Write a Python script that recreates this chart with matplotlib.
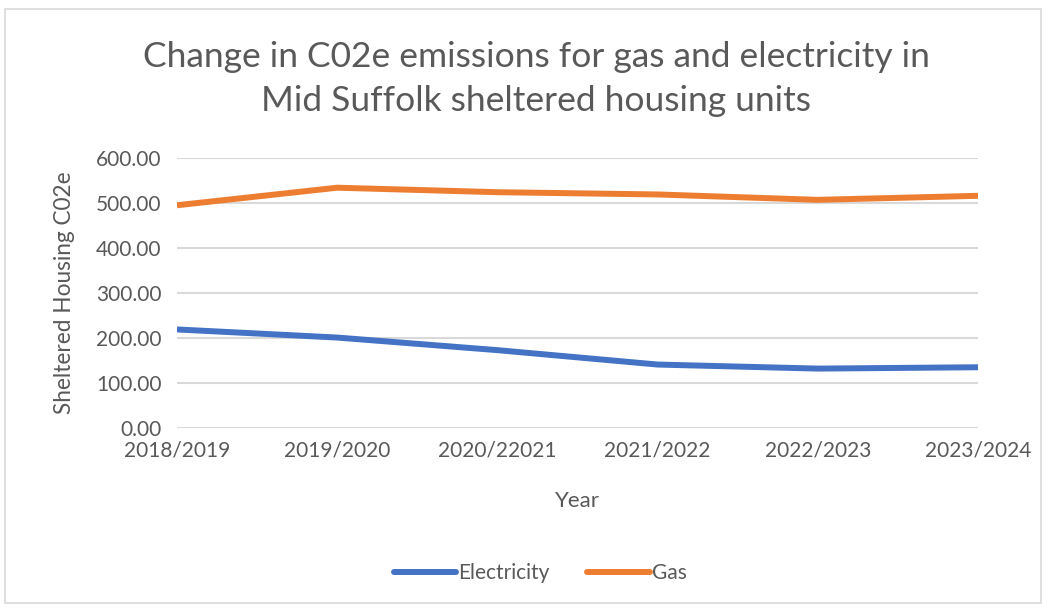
import matplotlib
matplotlib.use("Agg")
import matplotlib.pyplot as plt
from matplotlib.patches import Rectangle

years = ["2018/2019", "2019/2020", "2020/22021", "2021/2022", "2022/2023", "2023/2024"]
electricity = [219, 201, 173, 141, 132, 135]
gas = [495, 534, 524, 519, 507, 516]
yticks = [0, 100, 200, 300, 400, 500, 600]

plt.rcParams['font.family'] = ['Lato', 'DejaVu Sans']
gray = '#595959'

fig = plt.figure(figsize=(10.51, 6.07), dpi=100)
fig.patches.append(Rectangle((5/1051, 4/607), 1036/1051, 594/607, transform=fig.transFigure,
                             fill=False, edgecolor='#D9D9D9', linewidth=1.2))
ax = fig.add_axes([177/1051, 1-428/607, (978-177)/1051, (428-158)/607])

x = list(range(len(years)))
ax.plot(x, electricity, color='#4472C4', lw=4.3, label='Electricity', solid_capstyle='butt')
ax.plot(x, gas, color='#ED7D31', lw=4.3, label='Gas', solid_capstyle='butt')

ax.set_xlim(0, len(years)-1)
ax.set_ylim(0, 600)
ax.set_yticks(yticks)
ax.set_yticklabels([f"{v:.2f}" for v in yticks])
ax.set_xticks(x)
ax.set_xticklabels(years)
ax.tick_params(length=0, labelsize=15, colors=gray, pad=9)
ax.tick_params(axis='y', pad=11)
ax.grid(axis='y', color='#D9D9D9', lw=1.5)
ax.set_axisbelow(True)
for s in ax.spines.values():
    s.set_visible(False)

ax.set_ylabel("Sheltered Housing C02e", fontsize=16.3, color=gray, labelpad=15)
ax.set_xlabel("Year", fontsize=16, color=gray, labelpad=22)

fig.text(536/1051, 1-57/607, "Change in C02e emissions for gas and electricity in", ha='center', va='center',
         fontsize=25.5, color=gray)
fig.text(536/1051, 1-101/607, "Mid Suffolk sheltered housing units", ha='center', va='center',
         fontsize=25.5, color=gray)

leg = fig.legend(loc='center', bbox_to_anchor=(540/1051, 1-573/607), ncol=2, frameon=False,
                 fontsize=15, labelcolor=gray, handlelength=3.0, handletextpad=0.1, columnspacing=1.8)
for h in leg.get_lines():
    h.set_solid_capstyle('round')

fig.savefig("out.png", dpi=100)
